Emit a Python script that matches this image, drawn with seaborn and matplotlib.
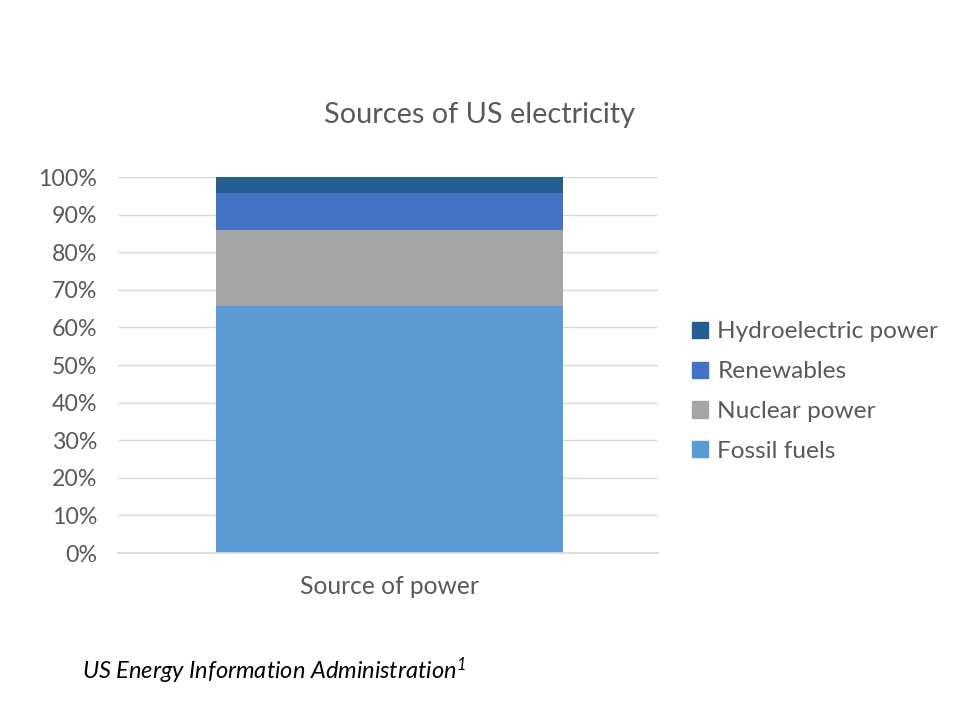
import matplotlib
matplotlib.use("Agg")
import matplotlib.pyplot as plt
import seaborn as sns
import pandas as pd
import numpy as np
from matplotlib.patches import Patch
from matplotlib.ticker import PercentFormatter

# shares of US electricity (%), bottom to top
sources = ["Fossil fuels", "Nuclear power", "Renewables", "Hydroelectric power"]
shares = [65.8, 20.1, 9.9, 4.2]
colors = ["#5B9BD5", "#A5A5A5", "#4472C4", "#255E91"]
category = ["Source of power"]

sns.set_theme(style="white")
plt.rcParams['font.family'] = ['Lato', 'DejaVu Sans']
plt.rcParams['mathtext.fontset'] = 'custom'
plt.rcParams['mathtext.it'] = 'Lato:italic'
plt.rcParams['mathtext.rm'] = 'Lato:italic'

txt = "#595959"
fig = plt.figure(figsize=(9.6, 7.2), dpi=100)
ax = fig.add_axes([0.1229, 0.2319, 0.5625, 0.5222])

df = pd.DataFrame({"source": sources, "share": shares, "cum": np.cumsum(shares)})

# stacked bar: draw cumulative totals from the top layer down
for i in reversed(range(len(df))):
    sns.barplot(x=category, y=[df["cum"].iloc[i]], color=colors[i],
                width=0.643, saturation=1, linewidth=0, ax=ax, zorder=2)

ax.set_ylim(0, 100)
ax.set_xlim(-0.503, 0.497)
ax.set_yticks(np.arange(0, 101, 10))
ax.yaxis.set_major_formatter(PercentFormatter(decimals=0))
ax.yaxis.grid(True, color="#D9D9D9", linewidth=1, zorder=0)
ax.set_axisbelow(True)
for s in ["top", "right", "left"]:
    ax.spines[s].set_visible(False)
ax.spines["bottom"].set_color("#D9D9D9")
ax.tick_params(axis="both", length=0, labelsize=16.7, colors=txt)
ax.tick_params(axis="y", pad=15)
ax.tick_params(axis="x", labelsize=17.7, pad=16)
ax.set_xlabel("")
ax.set_ylabel("")

fig.text(0.499, 0.84, "Sources of US electricity", ha="center", va="center",
         fontsize=20.8, color=txt)

handles = [Patch(color=colors[i], label=sources[i]) for i in reversed(range(len(sources)))]
leg = fig.legend(handles=handles, loc="center left", bbox_to_anchor=(0.7205, 0.456),
                 frameon=False, fontsize=17.6, labelcolor=txt, handlelength=0.65,
                 handleheight=0.65, handletextpad=0.4, labelspacing=0.77,
                 borderaxespad=0, borderpad=0)

fig.text(0.085, 0.069, "US Energy Information Administration$^{1}$", ha="left",
         va="center", fontsize=17, style="italic", color="black")

fig.savefig("out.png", dpi=100, facecolor="white")
